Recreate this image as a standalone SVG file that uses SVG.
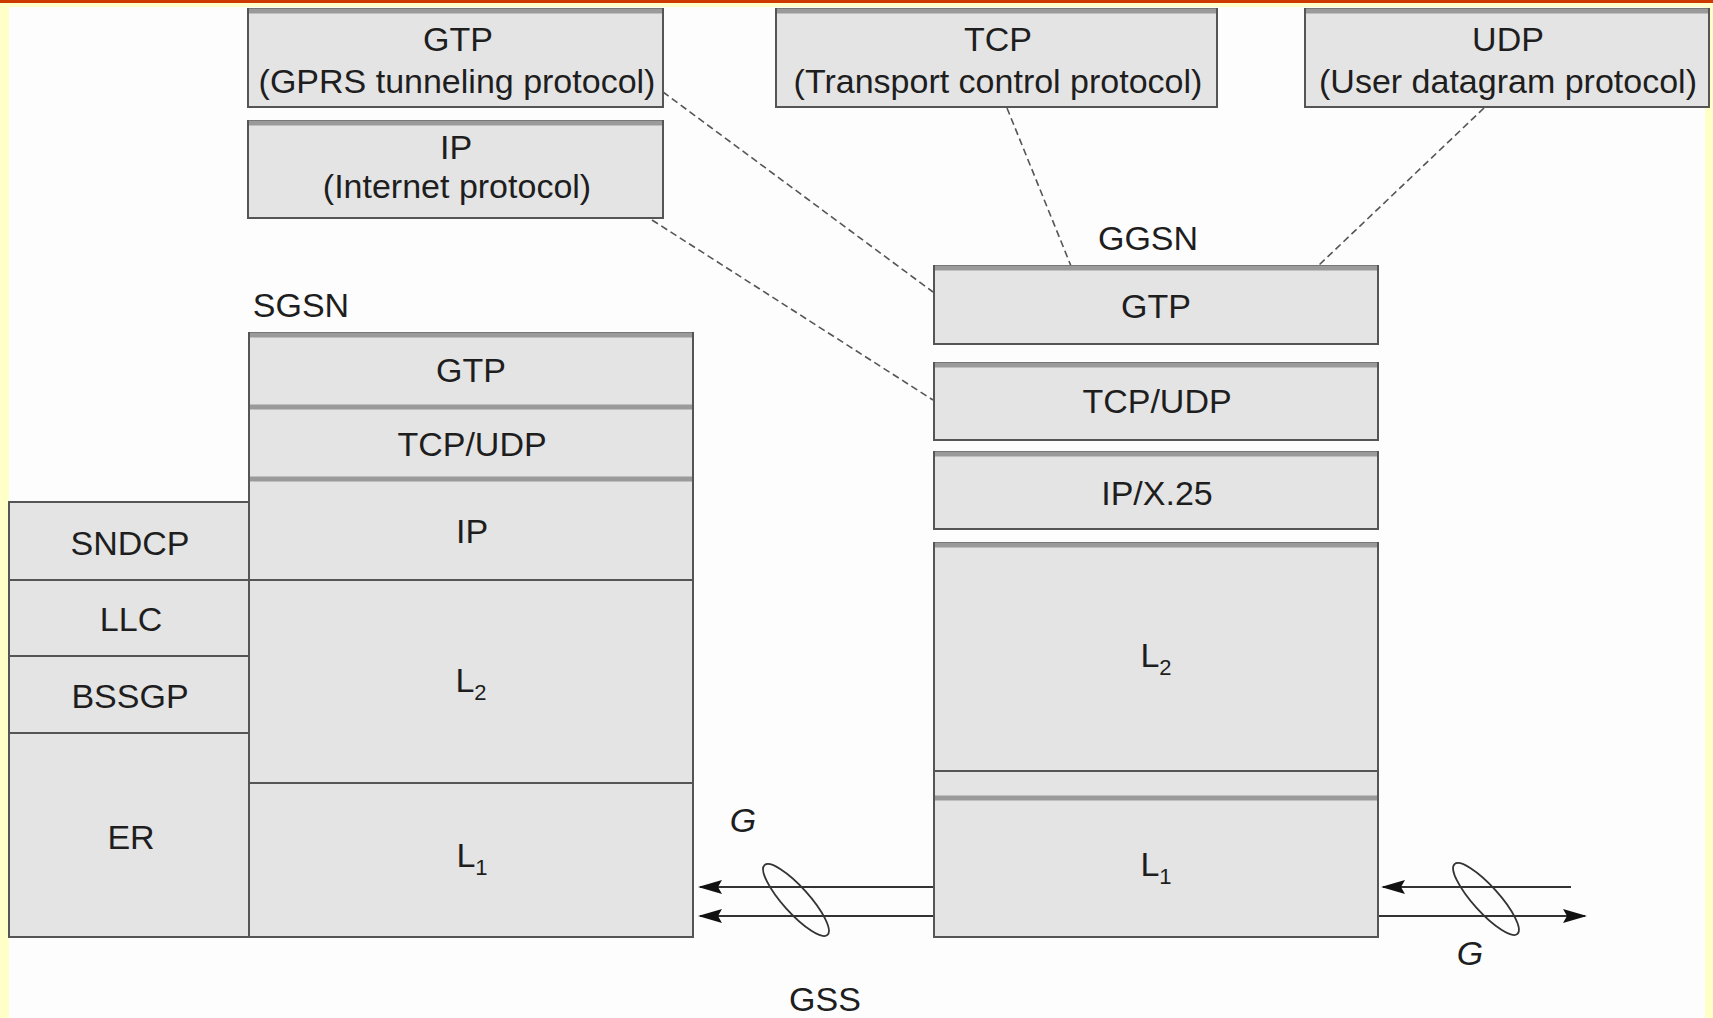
<svg xmlns="http://www.w3.org/2000/svg" width="1713" height="1018" viewBox="0 0 1713 1018">
<style>
.t{font-family:"Liberation Sans",Arial,Helvetica,sans-serif;font-size:34px;fill:#1e1e1e;text-anchor:middle}
.it{font-style:italic}
.sub{font-size:22px}
.box{fill:#e4e4e4;stroke:#555;stroke-width:2}
.band{stroke:#9a9a9a;stroke-width:5}
.div{stroke:#555;stroke-width:2}
.dash{stroke:#555;stroke-width:1.6;stroke-dasharray:7 4;fill:none}
.wire{stroke:#333;stroke-width:2;fill:none}
.loop{fill:none;stroke:#333;stroke-width:1.8}
</style>
<defs>
<marker id="ah" viewBox="0 0 24 14" refX="22" refY="7" markerWidth="24" markerHeight="14" markerUnits="userSpaceOnUse" orient="auto">
<path d="M0,0 L24,7 L0,14 L4,7 Z" fill="#111"/>
</marker>
</defs>
<!-- frame -->
<rect x="0" y="0" width="1713" height="1018" fill="#fdfdfd"/>
<rect x="0" y="0" width="9" height="1018" fill="#ffffc8"/>
<rect x="1705" y="0" width="8" height="1018" fill="#ffffc8"/>
<rect x="0" y="0" width="1713" height="7" fill="#ffffc8"/>
<rect x="0" y="0" width="1713" height="3" fill="#cc3a00"/>

<g id="connectors">
<line class="dash" x1="663" y1="92" x2="933" y2="292"/>
<line class="dash" x1="652" y1="220" x2="933" y2="400"/>
<line class="dash" x1="1007" y1="108" x2="1071" y2="266"/>
<line class="dash" x1="1484" y1="108" x2="1318" y2="266"/>
<line class="wire" x1="934" y1="887" x2="700" y2="887" marker-end="url(#ah)"/>
<line class="wire" x1="934" y1="916" x2="700" y2="916" marker-end="url(#ah)"/>
<line class="wire" x1="1571" y1="887" x2="1383" y2="887" marker-end="url(#ah)"/>
<line class="wire" x1="1378" y1="916" x2="1585" y2="916" marker-end="url(#ah)"/>
<ellipse class="loop" cx="796" cy="900" rx="47" ry="13" transform="rotate(48 796 900)"/>
<ellipse class="loop" cx="1486" cy="899" rx="47" ry="13" transform="rotate(48 1486 899)"/>
<text class="t it" x="743" y="832">G</text>
<text class="t" x="825" y="1011">GSS</text>
<text class="t it" x="1470" y="965">G</text>
</g>

<g id="top-gtp">
<rect class="box" x="248" y="9" width="415" height="98"/>
<line class="band" x1="249" y1="11" x2="662" y2="11"/>
<text class="t" x="458" y="51">GTP</text>
<text class="t" x="457" y="93">(GPRS tunneling protocol)</text>
</g>
<g id="top-ip">
<rect class="box" x="248" y="121" width="415" height="97"/>
<line class="band" x1="249" y1="123" x2="662" y2="123"/>
<text class="t" x="456" y="159">IP</text>
<text class="t" x="457" y="198">(Internet protocol)</text>
</g>
<g id="top-tcp">
<rect class="box" x="776" y="9" width="441" height="98"/>
<line class="band" x1="777" y1="11" x2="1216" y2="11"/>
<text class="t" x="998" y="51">TCP</text>
<text class="t" x="998" y="93">(Transport control protocol)</text>
</g>
<g id="top-udp">
<rect class="box" x="1305" y="9" width="404" height="98"/>
<line class="band" x1="1306" y1="11" x2="1708" y2="11"/>
<text class="t" x="1508" y="51">UDP</text>
<text class="t" x="1508" y="93">(User datagram protocol)</text>
</g>

<g id="sgsn">
<text class="t" x="301" y="317">SGSN</text>
<rect class="box" x="9" y="502" width="240" height="435"/>
<rect class="box" x="249" y="333" width="444" height="604"/>
<line class="band" x1="250" y1="335" x2="692" y2="335"/>
<line class="band" x1="250" y1="407" x2="692" y2="407"/>
<line class="band" x1="250" y1="479" x2="692" y2="479"/>
<line class="div" x1="249" y1="580" x2="693" y2="580"/>
<line class="div" x1="249" y1="783" x2="693" y2="783"/>
<line class="div" x1="9" y1="580" x2="249" y2="580"/>
<line class="div" x1="9" y1="656" x2="249" y2="656"/>
<line class="div" x1="9" y1="733" x2="249" y2="733"/>
<g id="sgsn-gtp"><text class="t" x="471" y="382">GTP</text></g>
<g id="sgsn-tcpudp"><text class="t" x="472" y="456">TCP/UDP</text></g>
<g id="sgsn-ip"><text class="t" x="472" y="543">IP</text></g>
<g id="sgsn-l2"><text class="t" x="471" y="692">L<tspan class="sub" dy="8">2</tspan></text></g>
<g id="sgsn-l1"><text class="t" x="472" y="867">L<tspan class="sub" dy="8">1</tspan></text></g>
<g id="sgsn-sndcp"><text class="t" x="130" y="555">SNDCP</text></g>
<g id="sgsn-llc"><text class="t" x="131" y="631">LLC</text></g>
<g id="sgsn-bssgp"><text class="t" x="130" y="708">BSSGP</text></g>
<g id="sgsn-er"><text class="t" x="131" y="849">ER</text></g>
</g>

<g id="ggsn">
<text class="t" x="1148" y="250">GGSN</text>
<g id="ggsn-gtp">
<rect class="box" x="934" y="266" width="444" height="78"/>
<line class="band" x1="935" y1="268" x2="1377" y2="268"/>
<text class="t" x="1156" y="318">GTP</text>
</g>
<g id="ggsn-tcpudp">
<rect class="box" x="934" y="363" width="444" height="77"/>
<line class="band" x1="935" y1="365" x2="1377" y2="365"/>
<text class="t" x="1157" y="413">TCP/UDP</text>
</g>
<g id="ggsn-ip">
<rect class="box" x="934" y="452" width="444" height="77"/>
<line class="band" x1="935" y1="454" x2="1377" y2="454"/>
<text class="t" x="1157" y="505">IP/X.25</text>
</g>
<g id="ggsn-lower">
<rect class="box" x="934" y="543" width="444" height="394"/>
<line class="band" x1="935" y1="545" x2="1377" y2="545"/>
<line class="div" x1="934" y1="771" x2="1378" y2="771"/>
<line class="band" x1="935" y1="798" x2="1377" y2="798"/>
<text class="t" x="1156" y="667">L<tspan class="sub" dy="8">2</tspan></text>
<text class="t" x="1156" y="876">L<tspan class="sub" dy="8">1</tspan></text>
</g>
</g>
</svg>
